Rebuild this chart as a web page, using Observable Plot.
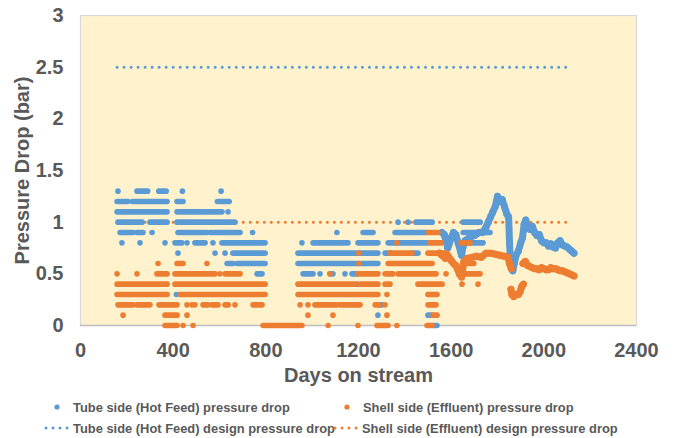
<!DOCTYPE html>
<html>
<head>
<meta charset="utf-8">
<script src="https://cdn.jsdelivr.net/npm/d3@7"></script>
<script src="https://cdn.jsdelivr.net/npm/@observablehq/plot@0.6"></script>
<style>
  html, body { margin: 0; padding: 0; background: #fff; }
  body { width: 675px; height: 438px; overflow: hidden; font-family: "Liberation Sans", Arial, sans-serif; }
  #legend { position: relative; width: 675px; height: 48px; color: #595959; font-size: 12.9px; font-weight: bold; }
  .item { position: absolute; display: flex; align-items: center; white-space: nowrap; height: 16px; }
  .item svg { display: block; margin-right: 2px; }
</style>
</head>
<body>
<div id="chart"></div>
<div id="legend"></div>
<script>
// ---- data ----
const xTicks = [0, 400, 800, 1200, 1600, 2000, 2400];
const yTicks = [0, 0.5, 1, 1.5, 2, 2.5, 3];
const seriesNames = [
  "Tube side (Hot Feed) pressure drop",
  "Shell side (Effluent) pressure drop",
  "Tube side (Hot Feed) design pressure drop",
  "Shell side (Effluent) design pressure drop"
];
const designDays = [160, 2110];
const tubeDesign = 2.5;
const shellDesign = 1.0;

// quantised readings: [pressure drop, first day, last day] (single readings: [pressure drop, day])
const tubeRuns = [
  [1.3,164],[1.3,246,292],[1.3,340,372],[1.3,442],[1.3,609],
  [1.2,160,207],[1.2,226,376],[1.2,419,445],[1.2,593,644],
  [1.1,160,376],[1.1,419,535],[1.1,544,613],[1.1,639],
  [1.0,164,268],[1.0,302,376],[1.0,419,669],[1.0,1373],[1.0,1416],[1.0,1450,1520],[1.0,1654,1727],
  [0.9,173,229],[0.9,246,272],[0.9,311],[0.9,423,548],[0.9,561,691],[0.9,745],[0.9,1109],[0.9,1222,1265],[0.9,1360,1500],[0.9,1654,1770],
  [0.8,181],[0.8,259],[0.8,367],[0.8,410,440],[0.8,462],[0.8,496,540],[0.8,574],[0.8,613,799],[0.8,958],[0.8,1006,1157],[0.8,1200,1286],[0.8,1330,1500],[0.8,1654,1740],
  [0.7,423],[0.7,583],[0.7,626],[0.7,660,799],[0.7,941,1286],[0.7,1317,1338],[0.7,1433,1459],
  [0.6,635,660],[0.6,678,799],[0.6,941,1286],
  [0.5,764,786],[0.5,963,1006],[0.5,1036],[0.5,1079,1092],[0.5,1144],[0.5,1174,1196],
  [0.4,1196],
  [0.3,416],
  [0.2,1295,1304],
  [0.1,1286],[0.1,1502,1520],
  [0,1524,1541]
];
const shellRuns = [
  [0.9,1502,1545],
  [0.8,1368],[0.8,1511,1560],[0.8,1645,1684],
  [0.7,1204],[0.7,1338,1433],[0.7,1502,1584],
  [0.6,337],[0.6,419,445],[0.6,548],[0.6,1204],[0.6,1330,1520],[0.6,1654,1700],
  [0.5,160],[0.5,246],[0.5,332,376],[0.5,410,583],[0.5,604],[0.5,626,691],[0.5,1079],[0.5,1200,1286],[0.5,1317,1351],[0.5,1373,1537],[0.5,1580],[0.5,1654,1727],
  [0.4,160,376],[0.4,410,799],[0.4,941,1187],[0.4,1209,1286],[0.4,1317,1338],[0.4,1459,1563],[0.4,1649],[0.4,1718],
  [0.3,160,376],[0.3,432,799],[0.3,941,1286],[0.3,1325],[0.3,1502,1541],
  [0.2,164,229],[0.2,246,302],[0.2,341,419],[0.2,462],[0.2,483],[0.2,496],[0.2,531,553],[0.2,570,596],[0.2,626,640],[0.2,669],[0.2,747,786],[0.2,950],[0.2,984],[0.2,1014,1109],[0.2,1122,1209],[0.2,1274,1290],[0.2,1317],[0.2,1502,1537],
  [0.1,186],[0.1,367,419],[0.1,462],[0.1,984],[0.1,1092],[0.1,1325],[0.1,1524,1541],
  [0,367,419],[0,445],[0,488],[0,790,958],[0,1071],[0,1200],[0,1282,1330],[0,1368],[0,1498,1520]
];

// finer readings after ~1550 days: [day, pressure drop]
const tubeTrend = [
  [1560,0.9],[1570,0.88],[1580,0.8],[1585,0.75],[1590,0.78],[1600,0.85],[1610,0.9],[1620,0.88],
  [1630,0.8],[1640,0.72],[1645,0.68],[1650,0.75],[1660,0.82],[1680,0.85],[1700,0.87],[1720,0.9],
  [1735,0.9],[1750,0.95],[1760,1.0],[1770,1.05],[1780,1.1],[1790,1.15],[1800,1.25],[1810,1.2],
  [1820,1.22],[1830,1.15],[1840,1.08],[1848,1.05],[1852,0.8],[1856,0.6],[1860,0.55],[1866,0.53],
  [1872,0.6],[1880,0.68],[1890,0.72],[1900,0.8],[1908,0.85],[1915,0.98],[1922,1.02],[1930,0.95],
  [1940,0.93],[1950,0.96],[1960,0.9],[1970,0.87],[1980,0.88],[1990,0.82],[2000,0.8],[2010,0.8],
  [2020,0.77],[2030,0.79],[2040,0.76],[2050,0.75],[2060,0.8],[2070,0.82],[2080,0.78],[2090,0.77],
  [2100,0.76],[2110,0.74],[2120,0.72],[2130,0.7]
];
const shellTrendA = [
  [1550,0.7],[1560,0.68],[1575,0.65],[1584,0.68],[1590,0.66],[1600,0.63],[1610,0.6],[1620,0.58],
  [1627,0.55],[1635,0.5],[1645,0.47],[1655,0.62],[1670,0.65],[1690,0.66],[1710,0.67],[1730,0.66],
  [1750,0.7],[1770,0.7],[1790,0.69],[1810,0.68],[1830,0.67],[1845,0.66],[1852,0.6],[1860,0.55]
];
const shellTrendLow = [
  [1858,0.35],[1862,0.3],[1870,0.28],[1880,0.3],[1890,0.3],[1898,0.33],[1905,0.38],[1912,0.4]
];
const shellTrendB = [
  [1910,0.6],[1920,0.62],[1930,0.58],[1940,0.57],[1950,0.56],[1960,0.55],[1970,0.55],[1980,0.54],
  [1990,0.56],[2000,0.55],[2010,0.54],[2020,0.54],[2030,0.56],[2040,0.55],[2050,0.55],[2060,0.54],
  [2070,0.53],[2080,0.53],[2090,0.52],[2100,0.51],[2110,0.5],[2120,0.49],[2130,0.48]
];

// ---- styling ----
const blue = "#5B9BD5", orange = "#ED7D31";
const textColor = "#595959";
const dotW = 5.6;
const trendW = 7;

const runRows = runs => runs.map(r => ({y: r[0], x1: r[1], x2: r.length > 2 ? r[2] : r[1]}));
const pts = a => a.map(p => ({x: p[0], y: p[1]}));
const design = v => [{y: v, x1: designDays[0], x2: designDays[1]}];

function runMark(runs, color) {
  return Plot.ruleY(runRows(runs), {y: "y", x1: "x1", x2: "x2", stroke: color, strokeWidth: dotW, strokeLinecap: "round"});
}
function trendMarks(arr, color) {
  return [
    Plot.line(pts(arr), {x: "x", y: "y", stroke: color, strokeWidth: trendW, strokeLinecap: "round", strokeLinejoin: "round", curve: "linear"}),
    Plot.dot(pts(arr), {x: "x", y: "y", r: trendW / 2, fill: color})
  ];
}

const chart = Plot.plot({
  width: 675,
  height: 390,
  marginLeft: 80,
  marginRight: 39,
  marginTop: 15,
  marginBottom: 65,
  style: {fontFamily: "'Liberation Sans', Arial, sans-serif", fontSize: "20px", fontWeight: "bold", color: textColor, background: "white", overflow: "visible"},
  x: {domain: [0, 2400]},
  y: {domain: [0, 3]},
  marks: [
    Plot.frame({fill: "#FFF2CC", stroke: "#D9D9D9", strokeWidth: 1.2}),
    Plot.ruleY([0], {stroke: "#BFBFBF", strokeWidth: 1.5}),
    Plot.axisX({ticks: xTicks, tickSize: 0, tickPadding: 17, label: null, tickFormat: d => String(d), fontSize: 20}),
    Plot.axisY({ticks: yTicks, tickSize: 0, tickPadding: 17, label: null, tickFormat: d => String(d), fontSize: 20}),
    Plot.text(["Days on stream"], {frameAnchor: "bottom", dy: 56, fontSize: 20, fill: textColor}),
    Plot.text(["Pressure Drop (bar)"], {frameAnchor: "left", dx: -58, rotate: -90, textAnchor: "middle", fontSize: 20, fill: textColor}),
    Plot.ruleY(design(tubeDesign), {y: "y", x1: "x1", x2: "x2", stroke: blue, strokeWidth: 3, strokeDasharray: "0.01 7", strokeLinecap: "round"}),
    Plot.ruleY(design(shellDesign), {y: "y", x1: "x1", x2: "x2", stroke: orange, strokeWidth: 3, strokeDasharray: "0.01 7", strokeLinecap: "round"}),
    runMark(tubeRuns, blue),
    ...trendMarks(tubeTrend, blue),
    runMark(shellRuns, orange),
    ...trendMarks(shellTrendA, orange),
    ...trendMarks(shellTrendLow, orange),
    ...trendMarks(shellTrendB, orange)
  ]
});
document.getElementById("chart").appendChild(chart);

// ---- legend (HTML below the SVG) ----
const legend = document.getElementById("legend");
const items = [
  {name: seriesNames[0], color: blue, kind: "dot", left: 52, top: 9},
  {name: seriesNames[1], color: orange, kind: "dot", left: 342, top: 9},
  {name: seriesNames[2], color: blue, kind: "dash", left: 43, top: 30},
  {name: seriesNames[3], color: orange, kind: "dash", left: 332, top: 30}
];
for (const it of items) {
  const div = document.createElement("div");
  div.className = "item";
  div.style.left = it.left + "px";
  div.style.top = it.top + "px";
  let sym;
  if (it.kind === "dot") {
    sym = `<svg width="19" height="16"><circle cx="5" cy="8" r="2.6" fill="${it.color}"/></svg>`;
  } else {
    sym = `<svg width="28" height="16"><line x1="3" x2="27" y1="8" y2="8" stroke="${it.color}" stroke-width="3" stroke-dasharray="0.01 7" stroke-linecap="round"/></svg>`;
  }
  div.innerHTML = sym + `<span>${it.name}</span>`;
  legend.appendChild(div);
}
</script>
</body>
</html>
